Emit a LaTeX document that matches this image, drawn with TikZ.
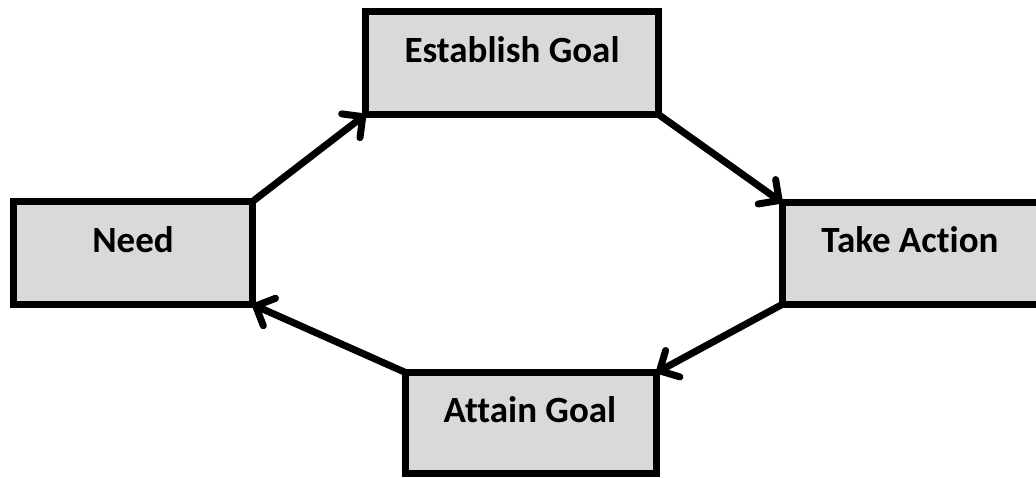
\documentclass[tikz,border=0pt]{standalone}
\usepackage{fontspec}
\setmainfont{Carlito}[Ligatures={NoCommon}]
\usetikzlibrary{arrows.meta}
\begin{document}
\begin{tikzpicture}[x=1pt,y=1pt,
  box/.style={draw=black, fill=boxgray, line width=7pt, rectangle, inner sep=0pt, outer sep=0pt},
  lbl/.style={font=\fontsize{37}{40}\selectfont\bfseries, text=black, inner sep=0pt},
  conn/.style={line width=7pt, line cap=round, -{Straight Barb[length=15pt,width=30pt,line cap=round,line join=round]}}
]
\definecolor{boxgray}{HTML}{D9D9D9}
\useasboundingbox (0,0) rectangle (1036,-477);
% boxes (outer extents minus line width)
\node[box, minimum width=239pt, minimum height=103pt] (need) at (133,-253) {};
\node[box, minimum width=293pt, minimum height=103pt] (est) at (512,-63) {};
\node[box, minimum width=258pt, minimum height=102pt] (act) at (911,-253.5) {};
\node[box, minimum width=251pt, minimum height=101pt] (att) at (531,-423) {};
% labels
\node[lbl] (needt) at (133,-240) {Need};
\node[lbl] (estt) at (512,-50) {Establish Goal};
\node[lbl] (actt) at (910,-240) {Take Action};
\node[lbl] (attt) at (530,-410) {Attain Goal};
% connectors
\draw[conn] (need.north east) -- (est.south west);
\draw[conn] (est.south east) -- (act.north west);
\draw[conn] (act.south west) -- (att.north east);
\draw[conn] (att.north west) -- (need.south east);
\end{tikzpicture}
\end{document}
